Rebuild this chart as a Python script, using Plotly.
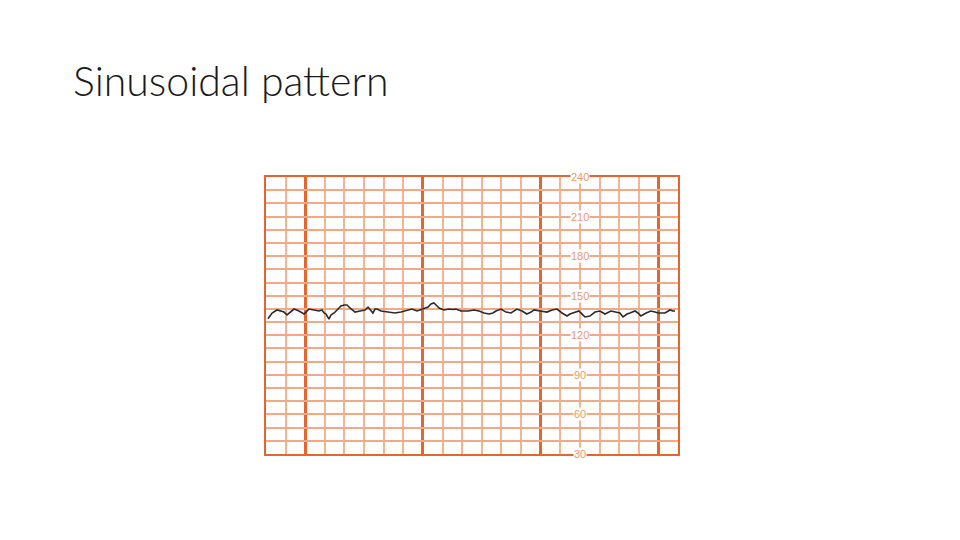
import plotly.graph_objects as go

# Time in chart-paper cells (21 cells across), fetal heart rate in bpm
time_cells = [0.10, 0.31, 0.56, 0.76, 0.92, 1.07, 1.22, 1.43, 1.68, 1.94, 2.04, 2.19, 2.45, 2.70, 2.85,
              2.96, 3.06, 3.21, 3.31, 3.47, 3.67, 3.82, 3.98, 4.13, 4.28, 4.54, 4.79, 5.05, 5.20, 5.30,
              5.45, 5.56, 5.66, 5.86, 6.22, 6.57, 6.88, 7.24, 7.44, 7.70, 7.85, 8.00, 8.26, 8.41, 8.56,
              8.72, 8.82, 9.07, 9.33, 9.53, 9.68, 9.94, 10.30, 10.60, 10.86, 11.11, 11.37, 11.57, 11.72,
              11.98, 12.23, 12.49, 12.79, 13.05, 13.30, 13.51, 13.66, 13.97, 14.32, 14.58, 14.83, 15.09,
              15.34, 15.49, 15.70, 15.95, 16.11, 16.26, 16.51, 16.77, 17.02, 17.28, 17.58, 17.84, 18.04,
              18.20, 18.40, 18.55, 18.81, 18.96, 19.11, 19.37, 19.62, 19.83, 19.98, 20.34, 20.59, 20.74,
              20.85]
heart_rate = [132.6, 136.9, 139.2, 138.4, 137.6, 135.4, 137.6, 139.9, 138.4, 136.1, 137.6, 139.9, 139.2,
              138.4, 139.2, 136.9, 136.1, 132.3, 135.4, 136.9, 139.9, 142.2, 143.0, 143.0, 140.7, 137.6,
              138.4, 139.2, 141.4, 139.9, 136.9, 139.9, 139.9, 138.4, 137.6, 136.9, 137.6, 139.2, 139.9,
              138.4, 139.2, 139.9, 141.4, 143.7, 144.5, 142.2, 140.7, 139.2, 139.9, 139.5, 139.9, 138.4,
              138.4, 139.2, 138.4, 136.9, 136.1, 136.9, 138.4, 139.9, 137.6, 136.9, 139.9, 138.4, 136.1,
              137.6, 139.2, 138.4, 137.6, 139.2, 139.9, 136.9, 134.6, 136.1, 136.9, 138.4, 136.1, 133.9,
              134.6, 137.6, 138.4, 136.1, 138.4, 137.6, 136.9, 133.9, 136.1, 136.9, 138.4, 136.9, 134.6,
              136.9, 138.4, 137.6, 136.9, 136.9, 139.2, 138.4, 138.4]

bpm_labels = [30, 60, 90, 120, 150, 180, 210, 240]
label_column = 16

title_text = "Sinusoidal pattern"

ORANGE_DARK = "#E4652F"
ORANGE_LIGHT = "#F6B496"
ORANGE_H = "#F4A886"
LABEL_COLOR = "#EE9A6E"

fig = go.Figure()
fig.add_trace(go.Scatter(x=time_cells, y=heart_rate, mode="lines",
                         line=dict(color="#2b2b2b", width=1.6), hoverinfo="skip",
                         showlegend=False))

for v in bpm_labels:
    fig.add_annotation(x=label_column, y=v, xref="x", yref="y", text=str(v), showarrow=False,
                       font=dict(family="Liberation Sans", size=11, color=LABEL_COLOR),
                       bgcolor="white", borderpad=0, xanchor="center", yanchor="middle")

fig.add_annotation(x=71 / 960, y=1 - 80 / 540, xref="paper", yref="paper", text=title_text,
                   showarrow=False, xanchor="left", yanchor="middle",
                   font=dict(family="Lato", size=41, color="#1a1a1a", weight=300))

fig.update_layout(
    template="none",
    width=960, height=540, margin=dict(l=0, r=0, t=0, b=0),
    paper_bgcolor="white", plot_bgcolor="white",
    xaxis=dict(domain=[266 / 960, 678 / 960], range=[0, 21], tick0=2, dtick=6,
               showgrid=True, gridcolor=ORANGE_DARK, gridwidth=2.6,
               minor=dict(tick0=0, dtick=1, showgrid=True, gridcolor=ORANGE_LIGHT, gridwidth=1.6),
               showticklabels=False, ticks="", zeroline=False,
               showline=True, mirror=True, linecolor=ORANGE_DARK, linewidth=1.6),
    yaxis=dict(domain=[(540 - 454) / 540, (540 - 177) / 540], range=[30, 240], tick0=30, dtick=10,
               showgrid=True, gridcolor=ORANGE_H, gridwidth=1.6,
               showticklabels=False, ticks="", zeroline=False,
               showline=True, mirror=True, linecolor=ORANGE_DARK, linewidth=1.6),
)

fig.write_html("out.html", config={"displayModeBar": False},
               post_script="document.body.style.margin='0';")
